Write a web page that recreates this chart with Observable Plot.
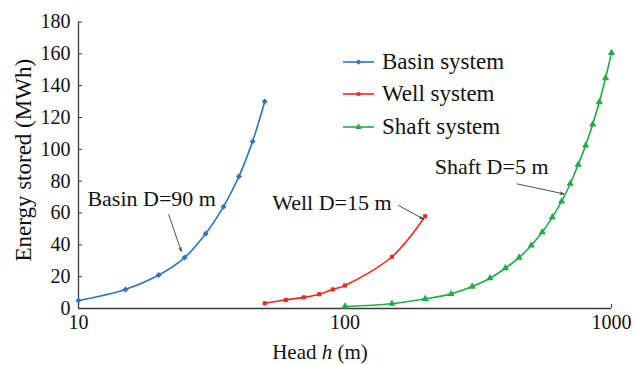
<!DOCTYPE html>
<html>
<head>
<meta charset="utf-8">
<script src="https://cdn.jsdelivr.net/npm/d3@7"></script>
<script src="https://cdn.jsdelivr.net/npm/@observablehq/plot@0.6"></script>
<style>
  html, body { margin: 0; padding: 0; background: #fff; }
  #wrap { position: relative; width: 633px; height: 365px; font-family: "Liberation Serif", "Times New Roman", serif; color: #111; }
  #wrap svg, #wrap svg text { font-family: "Liberation Serif", "Times New Roman", serif !important; }
  #legend { position: absolute; left: 343px; top: 46px; font-size: 23px; line-height: 32px; }
  #legend .row { display: flex; align-items: center; height: 32.3px; }
  #legend svg { margin-right: 7px; }
  #xlabel { position: absolute; left: 320px; top: 341px; transform: translateX(-50%); font-size: 21px; line-height: 22px; white-space: nowrap; }
</style>
</head>
<body>
<div id="wrap"></div>
<script>
// ---- data ----
const seriesNames = ["Basin system", "Well system", "Shaft system"];
const seriesColors = ["#2f74c4", "#ee2a1e", "#1fac48"];
const seriesSymbols = ["diamond2", "square", "triangle"];

const basinHead = [10, 15, 20, 25, 30, 35, 40, 45, 50];
const basinEnergy = [5, 12, 21, 32, 47, 64, 83, 105, 130];

const wellHead = [50, 60, 70, 80, 90, 100, 150, 200];
const wellEnergy = [3.3, 5.4, 7, 9, 12, 14.5, 32.5, 58];

const shaftHead = [100, 150, 200, 250, 300, 350, 400, 450, 500, 550, 600, 650, 700, 750, 800, 850, 900, 950, 1000];
const shaftEnergy = [1.3, 3, 6.1, 9.2, 13.8, 19, 25.4, 32, 39.6, 48, 57.4, 67.3, 78.4, 90.4, 102.5, 115.7, 129.7, 144.8, 160.6];

const xTicks = [10, 100, 1000];
const yTicks = [0, 20, 40, 60, 80, 100, 120, 140, 160, 180];

const annotText = ["Basin D=90 m", "Well D=15 m", "Shaft D=5 m"];
const annotX = [10.8, 53.3, 217];
const annotY = [69.1, 66.0, 88.8];
const arrowX1 = [21.8, 158.8, 442];
const arrowY1 = [59.0, 64.7, 78.3];
const arrowX2 = [24.3, 196.6, 662];
const arrowY2 = [36.0, 56.3, 72.0];

const xLabelText = "Head";
const yLabelText = "Energy stored (MWh)";

// ---- build tables ----
const rows = [];
[[basinHead, basinEnergy], [wellHead, wellEnergy], [shaftHead, shaftEnergy]].forEach(([hs, es], i) => {
  hs.forEach((h, j) => rows.push({series: seriesNames[i], h, e: es[j]}));
});
const annots = annotText.map((t, i) => ({t, x: annotX[i], y: annotY[i], x1: arrowX1[i], y1: arrowY1[i], x2: arrowX2[i], y2: arrowY2[i]}));

const font = "Liberation Serif";
const axisColor = "#3a3a3a";
const symbolR = [2.7, 2.3, 2.7];

const marks = [
  Plot.ruleY([0], {stroke: axisColor, strokeWidth: 1.3}),
  Plot.ruleX([10], {stroke: axisColor, strokeWidth: 1.3}),
  Plot.axisX(xTicks, {tickSize: -4, tickPadding: 10, tickFormat: d => String(d), fontSize: 20, fontFamily: font, fill: "#111", stroke: axisColor, label: null}),
  Plot.axisY(yTicks, {tickSize: -4, tickPadding: 12, fontSize: 20, fontFamily: font, fill: "#111", stroke: axisColor, label: null}),
  Plot.text([yLabelText], {frameAnchor: "left", textAnchor: "middle", lineAnchor: "middle", rotate: -90, dx: -55, dy: -5, fontSize: 23, fontFamily: font, fill: "#111"})
];
seriesNames.forEach((s, i) => {
  const d = rows.filter(r => r.series === s);
  marks.push(Plot.line(d, {x: "h", y: "e", stroke: seriesColors[i], strokeWidth: 1.6, curve: "catmull-rom"}));
  marks.push(Plot.dot(d, {x: "h", y: "e", fill: seriesColors[i], symbol: seriesSymbols[i], r: symbolR[i]}));
});
marks.push(Plot.arrow(annots, {x1: "x1", y1: "y1", x2: "x2", y2: "y2", stroke: "#222", strokeWidth: 0.8, headLength: 7, headAngle: 35}));
marks.push(Plot.text(annots, {x: "x", y: "y", text: "t", textAnchor: "start", lineAnchor: "middle", fontSize: 22, fontFamily: font, fill: "#111"}));

const chart = Plot.plot({
  width: 633,
  height: 365,
  marginLeft: 78,
  marginRight: 22,
  marginTop: 21.5,
  marginBottom: 57,
  style: {fontFamily: font, background: "#fff", color: "#111"},
  x: {type: "log", domain: [10, 1000]},
  y: {domain: [0, 180]},
  marks
});
const wrap = document.getElementById("wrap");
wrap.appendChild(chart);

// legend
const legend = document.createElement("div");
legend.id = "legend";
seriesNames.forEach((s, i) => {
  const row = document.createElement("div");
  row.className = "row";
  const svg = d3.create("svg").attr("width", 32).attr("height", 12);
  svg.append("line").attr("x1", 0).attr("x2", 31).attr("y1", 6).attr("y2", 6).attr("stroke", seriesColors[i]).attr("stroke-width", 1.6);
  const sym = [d3.symbolDiamond2, d3.symbolSquare, d3.symbolTriangle][i];
  svg.append("path").attr("d", d3.symbol(sym, Math.PI * symbolR[i] * symbolR[i] * 0.8)()).attr("transform", "translate(15.5,6)").attr("fill", seriesColors[i]);
  row.appendChild(svg.node());
  const span = document.createElement("span");
  span.textContent = s;
  row.appendChild(span);
  legend.appendChild(row);
});
wrap.appendChild(legend);

// x label with italic h
const xl = document.createElement("div");
xl.id = "xlabel";
xl.innerHTML = xLabelText + " <i>h</i> (m)";
wrap.appendChild(xl);
</script>
</body>
</html>
